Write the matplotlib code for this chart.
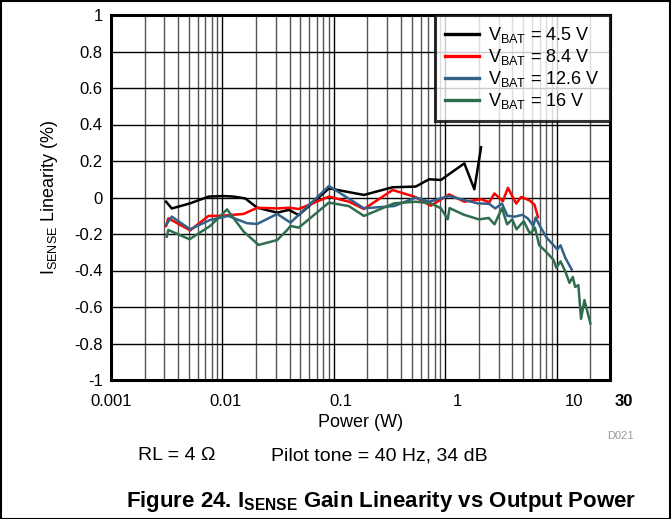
import matplotlib
matplotlib.use("Agg")
import matplotlib.pyplot as plt
import matplotlib.transforms as mtransforms
from matplotlib.patches import Rectangle
from matplotlib.ticker import FixedLocator, NullFormatter

plt.rcParams['font.family'] = ['Liberation Sans', 'DejaVu Sans']
plt.rcParams['mathtext.fontset'] = 'custom'
plt.rcParams['mathtext.rm'] = 'Liberation Sans'
plt.rcParams['mathtext.it'] = 'Liberation Sans:italic'
plt.rcParams['mathtext.bf'] = 'Liberation Sans:bold'

# ---- data (Power in W, linearity in %) ----
p_45 = [0.00312, 0.00351, 0.00513, 0.0075, 0.0102, 0.0126, 0.0160, 0.0205, 0.0310,
        0.0394, 0.0484, 0.0902, 0.186, 0.336, 0.543, 0.716, 0.912, 1.48, 1.82, 2.09]
v_45 = [-0.023, -0.06, -0.032, 0.005, 0.008, 0.005, -0.005, -0.056, -0.083,
        -0.068, -0.096, 0.05, 0.014, 0.056, 0.06, 0.10, 0.096, 0.187, 0.045, 0.275]

p_84 = [0.00312, 0.00327, 0.00513, 0.0075, 0.00989, 0.0155, 0.0205, 0.0310, 0.0394,
        0.0484, 0.0902, 0.136, 0.186, 0.336, 0.525, 0.741, 1.08, 1.48, 2.09, 2.48,
        2.75, 3.28, 3.64, 4.32, 4.79, 5.69, 6.31, 6.77]
v_84 = [-0.156, -0.114, -0.18, -0.101, -0.10, -0.09, -0.056, -0.06, -0.056,
        -0.063, 0.005, -0.023, -0.063, 0.041, 0.005, -0.045, 0.017, -0.023, -0.01, -0.026,
        0.022, -0.02, 0.053, -0.033, 0.003, -0.016, -0.04, -0.108]

p_126 = [0.00316, 0.00351, 0.00513, 0.00776, 0.0113, 0.0166, 0.0205, 0.0310, 0.0408,
         0.0902, 0.186, 0.347, 0.543, 0.716, 1.08, 1.48, 1.95, 2.48, 2.80, 3.22,
         3.60, 4.20, 4.90, 5.50, 6.15, 6.45, 7.10, 8.10, 9.30, 10.1, 10.8, 11.9,
         13.6]
v_126 = [-0.145, -0.105, -0.174, -0.123, -0.101, -0.141, -0.145, -0.09, -0.138,
         0.063, -0.059, -0.047, 0.0, -0.023, 0.008, -0.014, -0.032, -0.035, -0.06, -0.033,
         -0.10, -0.105, -0.095, -0.115, -0.156, -0.11, -0.16, -0.22, -0.26, -0.285,
         -0.262, -0.33, -0.395]

p_16 = [0.00316, 0.00327, 0.00506, 0.00776, 0.0110, 0.0155, 0.0211, 0.0310, 0.0381,
        0.0408, 0.0484, 0.0902, 0.136, 0.186, 0.347, 0.543, 0.741, 0.912, 1.05, 1.09,
        1.46, 2.0, 2.45, 2.76, 3.22, 3.58, 3.98, 4.35, 5.05, 5.76, 6.36, 6.95,
        7.8, 9.3, 9.9, 10.8, 11.9, 13.0, 13.9, 14.6, 15.6, 16.5, 17.7, 20.0]
v_16 = [-0.215, -0.178, -0.229, -0.156, -0.065, -0.187, -0.26, -0.233, -0.178,
        -0.156, -0.165, -0.028, -0.047, -0.101, -0.032, -0.023, -0.032, -0.059, -0.12, -0.058,
        -0.094, -0.12, -0.112, -0.147, -0.058, -0.147, -0.12, -0.174, -0.13, -0.2, -0.165, -0.262,
        -0.29, -0.34, -0.385, -0.35, -0.404, -0.468, -0.435, -0.49, -0.48, -0.665, -0.562, -0.69]

series_labels = [r'V$_{\rm BAT}$ = 4.5 V', r'V$_{\rm BAT}$ = 8.4 V',
                 r'V$_{\rm BAT}$ = 12.6 V', r'V$_{\rm BAT}$ = 16 V']
series_colors = ['#000000', '#ff0000', '#31628a', '#2e6e4e']

x_ticks = [0.001, 0.01, 0.1, 1, 10, 30]
x_tick_labels = ['0.001', '0.01', '0.1', '1', '10', '30']
y_ticks = [1, 0.8, 0.6, 0.4, 0.2, 0, -0.2, -0.4, -0.6, -0.8, -1]
y_tick_labels = ['1', '0.8', '0.6', '0.4', '0.2', '0', '-0.2', '-0.4', '-0.6', '-0.8', '-1']

# ---- figure ----
fig = plt.figure(figsize=(6.71, 5.19), dpi=100)
W, H = 671, 519
ax = fig.add_axes([111 / W, 1 - 380 / H, (610 - 111) / W, (380 - 15) / H])

ax.set_xscale('log')
ax.set_xlim(0.001, 30)
ax.set_ylim(-1, 1)

minor = []
for dec in [0.001, 0.01, 0.1, 1]:
    for k in range(2, 10):
        minor.append(dec * k)
minor.append(20)
ax.xaxis.set_major_locator(FixedLocator(x_ticks))
ax.xaxis.set_minor_locator(FixedLocator(minor))
ax.xaxis.set_minor_formatter(NullFormatter())
ax.set_xticklabels(x_tick_labels)
ax.set_yticks(y_ticks)
ax.set_yticklabels(y_tick_labels)

ax.grid(True, which='major', axis='both', color='#000000', lw=1.0)
ax.grid(True, which='minor', axis='x', color='#555555', lw=1.0)
ax.set_axisbelow(True)

ax.tick_params(axis='both', which='both', length=0, labelsize=12, colors='black')
ax.tick_params(axis='x', pad=10)
ax.tick_params(axis='y', pad=6)

# shift x tick labels as in the reference
shifts = [0, 3, 7, 12, 17, 14]
for lab, dx in zip(ax.get_xticklabels(), shifts):
    lab.set_transform(lab.get_transform() + mtransforms.ScaledTranslation(dx / 100, 0, fig.dpi_scale_trans))
ax.get_xticklabels()[-1].set_fontweight('bold')

for sp in ax.spines.values():
    sp.set_linewidth(2.2)
    sp.set_color('black')

data = [(p_45, v_45), (p_84, v_84), (p_126, v_126), (p_16, v_16)]
for (px, vy), lab, col in zip(data, series_labels, series_colors):
    ax.plot(px, vy, color=col, lw=1.8, label=lab)

leg = ax.legend(loc='upper right', fontsize=13, frameon=True, fancybox=False,
                borderpad=0.55, labelspacing=0.12, handlelength=1.9, handletextpad=0.5,
                borderaxespad=0.0)
leg.get_frame().set_edgecolor('black')
leg.get_frame().set_linewidth(2.2)
for ln in leg.get_lines():
    ln.set_linewidth(2.4)

ax.set_xlabel('Power (W)', fontsize=13, labelpad=4)
ax.set_ylabel(r'I$_{\rm SENSE}$ Linearity (%)', fontsize=13, labelpad=10)

fig.text(620 / W, 1 - 436 / H, 'D021', fontsize=8, color='#999999', ha='center', va='center')
fig.text(177 / W, 1 - 456 / H, r'RL = 4 Ω', fontsize=14, ha='center', va='center')
fig.text(379 / W, 1 - 456 / H, 'Pilot tone = 40 Hz, 34 dB', fontsize=14, ha='center', va='center')
fig.text(381 / W, 1 - 502 / H, r'Figure 24. I$_{\bf SENSE}$ Gain Linearity vs Output Power',
         fontsize=16, fontweight='bold', ha='center', va='center')

fig.patches.append(Rectangle((0.001, 0.0), 0.997, 0.998, transform=fig.transFigure,
                             fill=False, edgecolor='black', lw=1.5))

fig.savefig('out.png', dpi=100)
